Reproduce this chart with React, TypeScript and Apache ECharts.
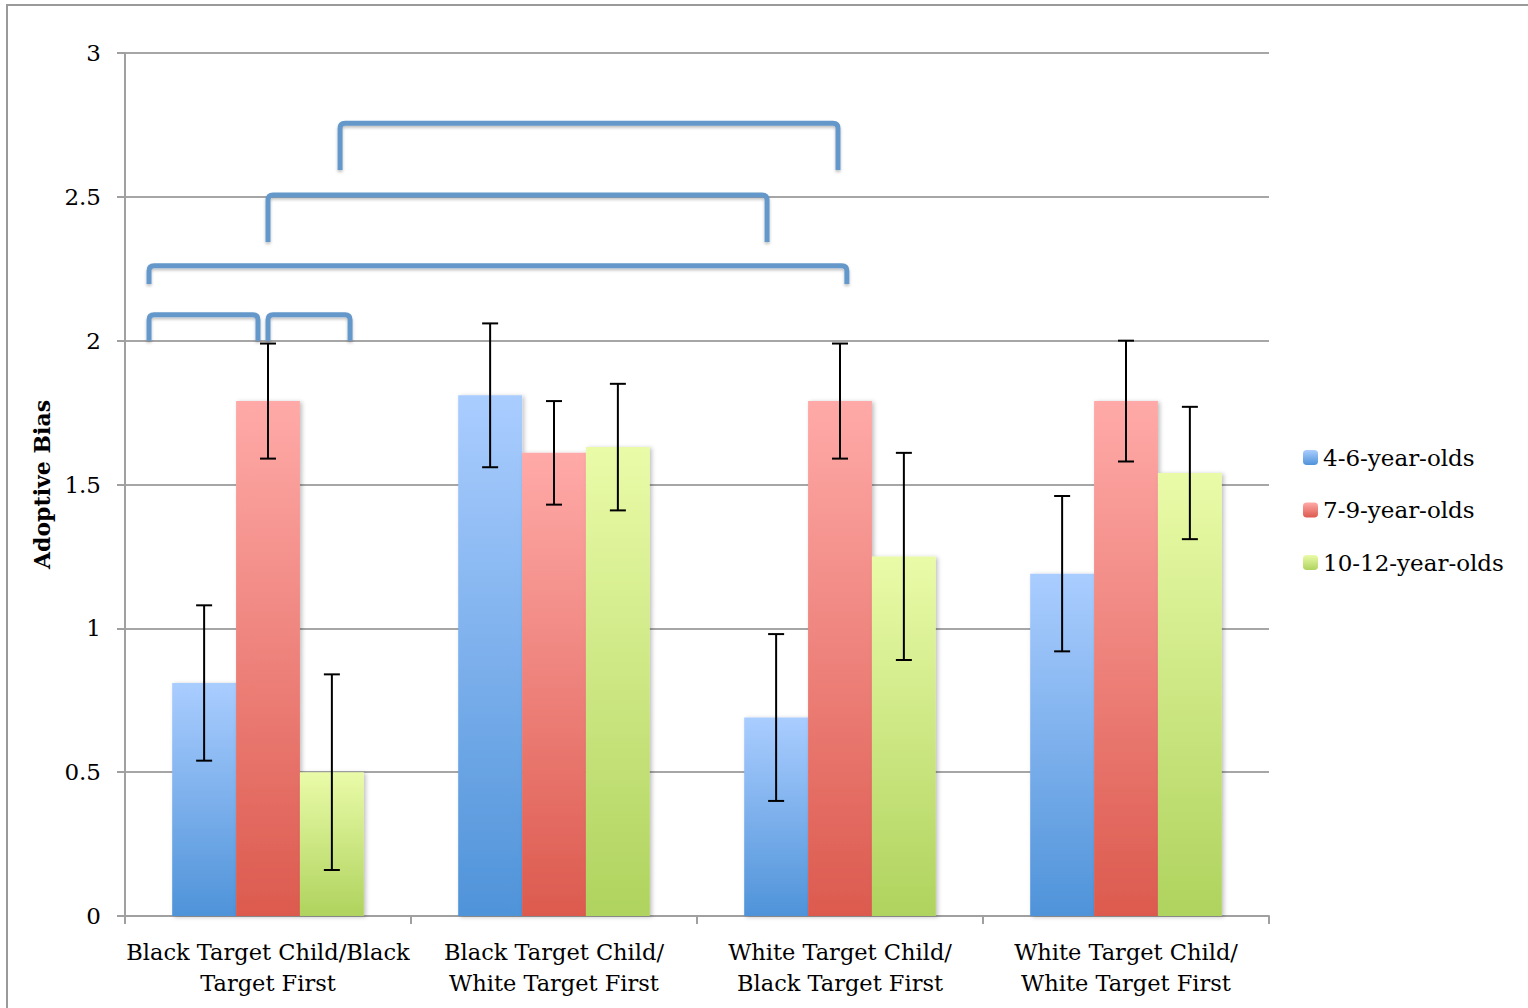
import React, { useEffect, useRef } from "react";
import * as echarts from "echarts";

const categories = [
  "Black Target Child/Black\nTarget First",
  "Black Target Child/\nWhite Target First",
  "White Target Child/\nBlack Target First",
  "White Target Child/\nWhite Target First",
];
const seriesNames = ["4-6-year-olds", "7-9-year-olds", "10-12-year-olds"];
const young = [0.81, 1.81, 0.69, 1.19];
const middle = [1.79, 1.61, 1.79, 1.79];
const old = [0.5, 1.63, 1.25, 1.54];
const youngErr = [[0.54, 1.08], [1.56, 2.06], [0.4, 0.98], [0.92, 1.46]];
const middleErr = [[1.59, 1.99], [1.43, 1.79], [1.59, 1.99], [1.58, 2.0]];
const oldErr = [[0.16, 0.84], [1.41, 1.85], [0.89, 1.61], [1.31, 1.77]];
// brackets: [x1, x2 (category units), yTop, yEnd]
const brackets = [
  [-0.416, -0.035, 2.09, 2.0],
  [0.0, 0.287, 2.09, 2.0],
  [-0.416, 2.024, 2.26, 2.197],
  [0.0, 1.745, 2.506, 2.343],
  [0.252, 1.993, 2.756, 2.593],
];
const yTicks = { min: 0, max: 3, interval: 0.5 };

const gradients = [
  ["#aacdff", "#4f93d9"],
  ["#ffaaa8", "#dc5a4e"],
  ["#eafba8", "#afd35e"],
];

const FONT = "'DejaVu Serif', serif";
const CAT_GAP = 0.33;

export default function App() {
  const ref = useRef<HTMLDivElement>(null);
  useEffect(() => {
    const chart = echarts.init(ref.current!, null, { renderer: "svg" });
    const values = [young, middle, old];
    const errs = [youngErr, middleErr, oldErr];
    const grad = (i: number) =>
      new echarts.graphic.LinearGradient(0, 0, 0, 1, [
        { offset: 0, color: gradients[i][0] },
        { offset: 1, color: gradients[i][1] },
      ]);
    const barSeries = values.map((v, i) => ({
      type: "bar",
      name: seriesNames[i],
      data: v,
      barGap: "0%",
      barCategoryGap: CAT_GAP * 100 + "%",
      itemStyle: {
        color: grad(i),
        shadowBlur: 4,
        shadowColor: "rgba(0,0,0,0.25)",
        shadowOffsetX: 2,
        shadowOffsetY: 1,
      },
      z: 2,
    }));
    const errSeries = errs.map((e, si) => ({
      type: "custom",
      name: "err" + si,
      data: e.map((d, ci) => [ci, d[0], d[1]]),
      z: 5,
      renderItem: (params: any, api: any) => {
        const ci = api.value(0);
        const lo = api.coord([ci, api.value(1)]);
        const hi = api.coord([ci, api.value(2)]);
        const band = api.size([1, 0])[0];
        const bw = (band * (1 - CAT_GAP)) / 3;
        const x = lo[0] + (si - 1) * bw;
        const cap = 8;
        const st = { stroke: "#000", lineWidth: 2 };
        return {
          type: "group",
          children: [
            { type: "line", shape: { x1: x, y1: lo[1], x2: x, y2: hi[1] }, style: st },
            { type: "line", shape: { x1: x - cap, y1: lo[1], x2: x + cap, y2: lo[1] }, style: st },
            { type: "line", shape: { x1: x - cap, y1: hi[1], x2: x + cap, y2: hi[1] }, style: st },
          ],
        };
      },
    }));
    const bracketSeries = {
      type: "custom",
      name: "brackets",
      data: brackets,
      z: 6,
      renderItem: (params: any, api: any) => {
        const base = api.coord([0, api.value(2)]);
        const endP = api.coord([0, api.value(3)]);
        const band = api.size([1, 0])[0];
        const x1 = base[0] + api.value(0) * band;
        const x2 = base[0] + api.value(1) * band;
        const yt = base[1];
        const ye = endP[1];
        const r = 5;
        const d = `M ${x1} ${ye} L ${x1} ${yt + r} Q ${x1} ${yt} ${x1 + r} ${yt} L ${x2 - r} ${yt} Q ${x2} ${yt} ${x2} ${yt + r} L ${x2} ${ye}`;
        return {
          type: "path",
          shape: { pathData: d },
          style: {
            fill: "none",
            stroke: "#6598ca",
            lineWidth: 5,
            shadowBlur: 3,
            shadowColor: "rgba(0,0,0,0.25)",
            shadowOffsetY: 2,
          },
        };
      },
    };
    chart.setOption({
      animation: false,
      backgroundColor: "#fff",
      textStyle: { fontFamily: FONT },
      graphic: [
        {
          type: "rect",
          shape: { x: 7, y: 5, width: 1600, height: 1100 },
          style: { fill: "none", stroke: "#9a9a9a", lineWidth: 2 },
          silent: true,
        },
      ],
      legend: {
        data: seriesNames,
        orient: "vertical",
        left: 1298,
        top: 441,
        itemWidth: 15,
        itemHeight: 15,
        itemGap: 29.5,
        textStyle: { fontFamily: FONT, fontSize: 23, color: "#000" },
      },
      grid: { left: 125, right: 259, top: 53, bottom: 92 },
      xAxis: {
        type: "category",
        data: categories,
        axisLine: { lineStyle: { color: "#a0a0a0", width: 2 } },
        axisTick: { show: true, length: 8, lineStyle: { color: "#a0a0a0", width: 2 } },
        axisLabel: {
          fontFamily: FONT,
          fontSize: 22.5,
          color: "#000",
          lineHeight: 31,
          margin: 20,
          interval: 0,
        },
      },
      yAxis: {
        type: "value",
        min: yTicks.min,
        max: yTicks.max,
        interval: yTicks.interval,
        name: "Adoptive Bias",
        nameLocation: "middle",
        nameGap: 72,
        nameTextStyle: { fontFamily: FONT, fontSize: 22, fontWeight: "bold", color: "#000" },
        axisLine: { show: true, lineStyle: { color: "#a0a0a0", width: 2 } },
        axisTick: { show: true, length: 8, lineStyle: { color: "#a0a0a0", width: 2 } },
        axisLabel: { fontFamily: FONT, fontSize: 23, color: "#000", margin: 24 },
        splitLine: { lineStyle: { color: "#a6a6a6", width: 2 } },
      },
      series: [...barSeries, ...errSeries, bracketSeries],
    });
    return () => chart.dispose();
  }, []);
  return (
    <div
      ref={ref}
      style={{ position: "absolute", left: 0, top: 0, width: 1528, height: 1008 }}
    />
  );
}
